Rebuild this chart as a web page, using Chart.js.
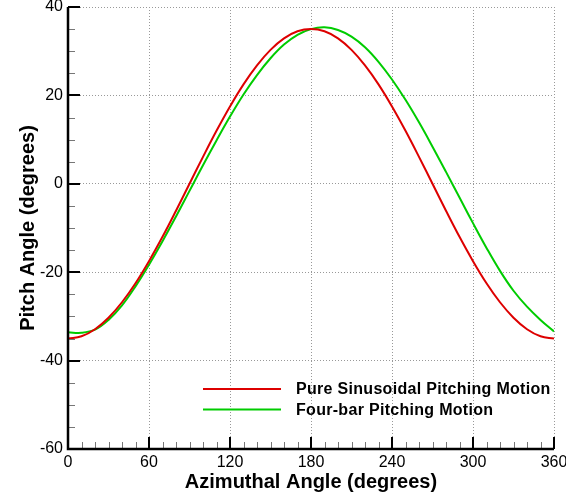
<!DOCTYPE html>
<html>
<head>
<meta charset="utf-8">
<script src="https://cdn.jsdelivr.net/npm/chart.js@4.4.1/dist/chart.umd.min.js"></script>
<style>
  html, body { margin: 0; padding: 0; background: #fff; }
  #wrap { width: 566px; height: 500px; }
</style>
</head>
<body>
<div id="wrap"><canvas id="myChart" width="566" height="500"></canvas></div>
<script>
// azimuthal angle (deg), sampled every 10 deg
const azimuth = [0,10,20,30,40,50,60,70,80,90,100,110,120,130,140,150,160,170,180,
  190,200,210,220,230,240,250,260,270,280,290,300,310,320,330,340,350,360];
// pitch angle (deg)
const pureSine = [-35,-34.5,-32.9,-30.3,-26.8,-22.5,-17.5,-12.0,-6.1,0,6.1,12.0,17.5,22.5,26.8,30.3,32.9,34.5,35,
  34.5,32.9,30.3,26.8,22.5,17.5,12.0,6.1,0,-6.1,-12.0,-17.5,-22.5,-26.8,-30.3,-32.9,-34.5,-35];
const fourBar = [-33.6,-33.7,-33.0,-30.8,-27.5,-23.2,-18.3,-13.0,-7.4,-1.6,4.2,9.8,15.2,20.2,24.6,28.4,31.5,33.7,35.0,
  35.4,34.8,33.3,30.9,27.6,23.6,19.0,13.9,8.4,2.7,-3.1,-8.9,-14.5,-19.7,-24.2,-27.8,-30.8,-33.4];
const seriesNames = ['Pure Sinusoidal Pitching Motion', 'Four-bar Pitching Motion'];
const seriesColors = ['#dd0000', '#00cc00'];
const xTicks = [0, 60, 120, 180, 240, 300, 360];
const yTicks = [-60, -40, -20, 0, 20, 40];

const FONT = '"Liberation Sans", Arial, Helvetica, sans-serif';

function pts(ys) {
  return azimuth.map((a, i) => ({ x: a, y: ys[i] }));
}

// inward tick marks + solid left/bottom axes
const axesPlugin = {
  id: 'axes',
  afterDraw(chart) {
    const ctx = chart.ctx, xs = chart.scales.x, ys = chart.scales.y;
    const a = chart.chartArea;
    ctx.save();
    // minor ticks
    ctx.strokeStyle = '#777';
    ctx.lineWidth = 1;
    ctx.beginPath();
    for (let v = xs.min; v <= xs.max; v += 10) {
      if (v % 60 === 0) continue;
      const px = Math.round(xs.getPixelForValue(v)) + 0.5;
      ctx.moveTo(px, a.bottom); ctx.lineTo(px, a.bottom - 7);
    }
    for (let v = ys.min; v <= ys.max; v += 5) {
      if (v % 20 === 0) continue;
      const py = Math.round(ys.getPixelForValue(v)) + 0.5;
      ctx.moveTo(a.left, py); ctx.lineTo(a.left + 7, py);
    }
    ctx.stroke();
    // major ticks
    ctx.strokeStyle = '#000';
    ctx.lineWidth = 2;
    ctx.beginPath();
    xTicks.forEach(v => {
      const px = Math.round(xs.getPixelForValue(v));
      ctx.moveTo(px, a.bottom); ctx.lineTo(px, a.bottom - 12);
    });
    yTicks.forEach(v => {
      const py = Math.round(ys.getPixelForValue(v));
      ctx.moveTo(a.left, py); ctx.lineTo(a.left + 12, py);
    });
    ctx.stroke();
    // axis lines
    ctx.lineWidth = 2.5;
    ctx.beginPath();
    ctx.moveTo(a.left, a.top); ctx.lineTo(a.left, a.bottom); ctx.lineTo(a.right, a.bottom);
    ctx.stroke();
    ctx.restore();
  }
};

// legend inside the lower right of the plot
const legendPlugin = {
  id: 'boxLegend',
  afterDraw(chart) {
    const ctx = chart.ctx, a = chart.chartArea;
    ctx.save();
    ctx.font = 'bold 16px ' + FONT;
    ctx.letterSpacing = '0.3px';
    ctx.textBaseline = 'middle';
    ctx.textAlign = 'left';
    seriesNames.forEach((name, i) => {
      const y = a.top + 382 + i * 20.5;
      ctx.strokeStyle = seriesColors[i];
      ctx.lineWidth = 2;
      ctx.beginPath();
      ctx.moveTo(a.left + 135, y); ctx.lineTo(a.left + 213, y);
      ctx.stroke();
      ctx.fillStyle = '#000';
      ctx.fillText(name, a.left + 228, y + 1);
    });
    ctx.restore();
  }
};

new Chart(document.getElementById('myChart'), {
  type: 'line',
  data: {
    datasets: [
      { label: seriesNames[0], data: pts(pureSine), borderColor: seriesColors[0], borderWidth: 2, pointRadius: 0, tension: 0.4, fill: false },
      { label: seriesNames[1], data: pts(fourBar), borderColor: seriesColors[1], borderWidth: 2, pointRadius: 0, tension: 0.4, fill: false }
    ]
  },
  options: {
    responsive: false,
    animation: false,
    layout: { padding: { left: 0, right: 12, top: 7, bottom: 0 } },
    plugins: { legend: { display: false }, tooltip: { enabled: false } },
    scales: {
      x: {
        type: 'linear', min: 0, max: 360,
        afterBuildTicks: s => { s.ticks = xTicks.map(v => ({ value: v })); },
        afterFit: s => { s.height = 51; s.paddingLeft = 0; s.paddingRight = 0; },
        ticks: { color: '#000', font: { family: FONT, size: 16 }, padding: 4, maxRotation: 0 },
        grid: { color: '#999', lineWidth: 1, drawTicks: false },
        border: { display: false, dash: [1, 2] },
        title: { display: true, text: 'Azimuthal Angle (degrees)', color: '#000', font: { family: FONT, size: 20, weight: 'bold' }, padding: { top: 0, bottom: 6 } }
      },
      y: {
        min: -60, max: 40,
        afterBuildTicks: s => { s.ticks = yTicks.map(v => ({ value: v })); },
        afterFit: s => { s.width = 68; s.paddingTop = 0; s.paddingBottom = 0; },
        ticks: { color: '#000', font: { family: FONT, size: 16 }, padding: 5 },
        grid: { color: '#999', lineWidth: 1, drawTicks: false },
        border: { display: false, dash: [1, 2] },
        title: { display: true, text: 'Pitch Angle (degrees)', color: '#000', font: { family: FONT, size: 20, weight: 'bold' }, padding: { top: 16, bottom: 0 } }
      }
    }
  },
  plugins: [axesPlugin, legendPlugin]
});
</script>
</body>
</html>
